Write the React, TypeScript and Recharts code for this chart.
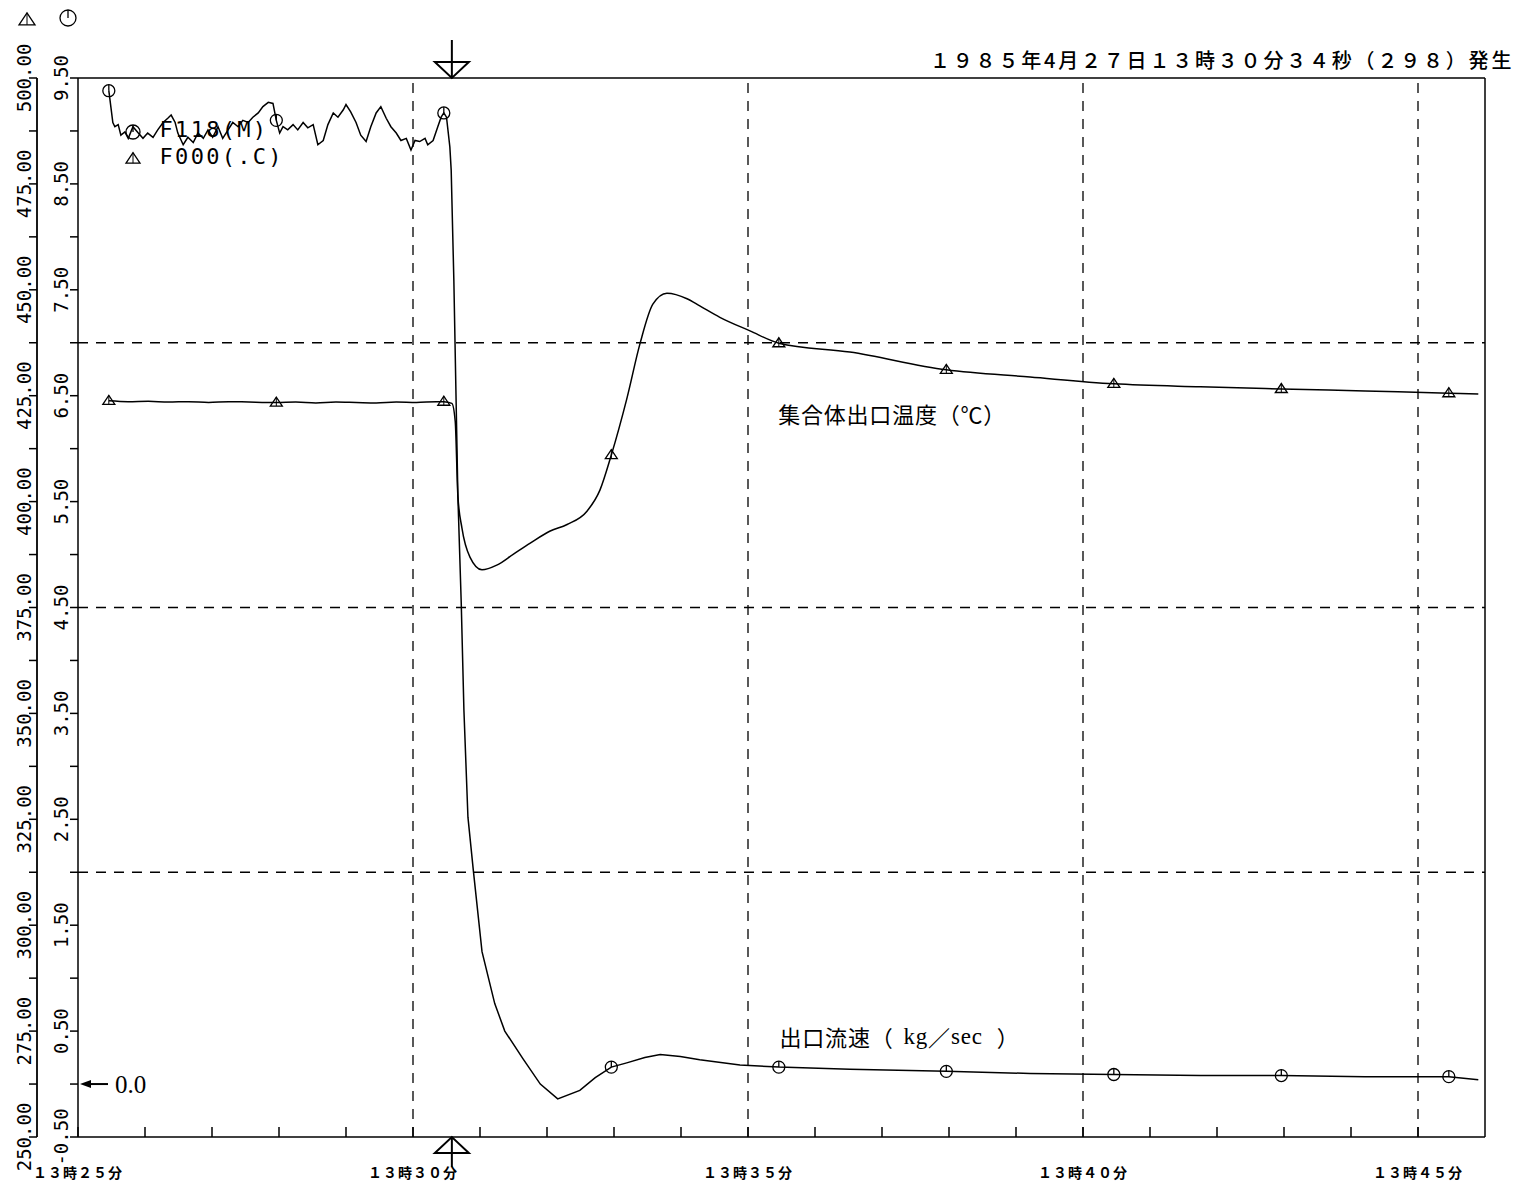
import React from 'react';
import { LineChart, Line, XAxis, YAxis, ReferenceLine, ReferenceDot } from 'recharts';

// minutes after 13:25
const FLOW_TIME = [0.46, 0.52, 0.55, 0.6, 0.64, 0.7, 0.75, 0.82, 0.9, 0.97, 1.04, 1.12, 1.19, 1.27, 1.34, 1.39, 1.45, 1.49, 1.57, 1.64, 1.72, 1.79, 1.87, 1.94, 2.01, 2.09, 2.16, 2.24, 2.31, 2.39, 2.46, 2.54, 2.61, 2.69, 2.76, 2.84, 2.91, 2.96, 3.01, 3.06, 3.13, 3.21, 3.28, 3.36, 3.43, 3.51, 3.58, 3.66, 3.73, 3.81, 3.88, 3.96, 4.0, 4.07, 4.15, 4.22, 4.3, 4.37, 4.45, 4.52, 4.6, 4.67, 4.75, 4.82, 4.9, 4.97, 5.03, 5.1, 5.18, 5.22, 5.3, 5.37, 5.42, 5.46, 5.5, 5.55, 5.57, 5.61, 5.67, 5.72, 5.76, 5.82, 5.9, 6.03, 6.22, 6.37, 6.64, 6.9, 7.16, 7.49, 7.72, 7.96, 8.19, 8.46, 8.69, 8.99, 9.28, 9.88, 10.46, 11.52, 12.96, 14.21, 15.46, 16.75, 17.96, 19.21, 20.46, 20.9];
// 出口流速 kg/sec
const FLOW_VALUE = [9.38, 9.08, 9.04, 9.06, 8.96, 8.99, 8.93, 9.04, 8.98, 8.93, 8.98, 8.94, 9.01, 9.08, 9.12, 9.15, 9.08, 8.98, 8.87, 8.94, 8.89, 8.98, 8.93, 9.01, 8.94, 9.04, 8.93, 9.01, 9.08, 9.04, 9.1, 9.08, 9.13, 9.17, 9.23, 9.27, 9.26, 9.1, 8.98, 9.04, 9.01, 9.06, 9.01, 9.08, 9.03, 9.06, 8.87, 8.91, 9.06, 9.17, 9.13, 9.2, 9.25, 9.18, 9.08, 8.96, 8.9, 9.04, 9.17, 9.23, 9.12, 9.04, 8.98, 8.91, 8.93, 8.82, 8.91, 8.9, 8.93, 8.87, 8.91, 9.04, 9.13, 9.17, 9.13, 8.85, 8.63, 7.58, 5.55, 4.54, 3.53, 2.52, 2.02, 1.25, 0.76, 0.5, 0.24, 0.0, -0.14, -0.06, 0.06, 0.16, 0.2, 0.25, 0.28, 0.26, 0.23, 0.18, 0.16, 0.14, 0.12, 0.1, 0.09, 0.08, 0.08, 0.07, 0.07, 0.04];

const TEMP_TIME = [0.46, 0.75, 1.05, 1.35, 1.65, 1.95, 2.25, 2.55, 2.96, 3.25, 3.55, 3.85, 4.15, 4.45, 4.75, 5.05, 5.35, 5.46, 5.58, 5.63, 5.67, 5.73, 5.85, 6.03, 6.25, 6.5, 6.75, 7.04, 7.3, 7.6, 7.79, 7.96, 8.19, 8.39, 8.58, 8.79, 9.09, 9.28, 9.58, 10.03, 10.46, 11.52, 12.96, 14.21, 15.46, 16.75, 17.96, 19.21, 20.46, 20.9];
// 集合体出口温度 ℃
const TEMP_VALUE = [423.8, 423.6, 423.7, 423.5, 423.6, 423.4, 423.6, 423.5, 423.4, 423.5, 423.3, 423.5, 423.4, 423.3, 423.5, 423.4, 423.6, 423.6, 423.2, 419.0, 401.3, 393.8, 386.9, 383.9, 385.0, 387.6, 390.2, 393.0, 394.6, 397.8, 402.7, 411.0, 424.2, 437.4, 446.6, 449.2, 447.9, 446.2, 443.5, 440.3, 437.4, 435.3, 431.1, 429.4, 427.8, 427.1, 426.6, 426.1, 425.6, 425.4];

const MARKER_TIME = [0.46, 2.96, 5.46, 7.96, 10.46, 12.96, 15.46, 17.96, 20.46];

const TIME_TICKS = [0, 1, 2, 3, 4, 5, 6, 7, 8, 9, 10, 11, 12, 13, 14, 15, 16, 17, 18, 19, 20];
const TIME_LABEL_AT = [0, 5, 10, 15, 20];
const TIME_LABELS = ['１３時２５分', '１３時３０分', '１３時３５分', '１３時４０分', '１３時４５分'];

const FLOW_TICKS = [-0.5, 0, 0.5, 1, 1.5, 2, 2.5, 3, 3.5, 4, 4.5, 5, 5.5, 6, 6.5, 7, 7.5, 8, 8.5, 9, 9.5];
const FLOW_LABELED = [-0.5, 0.5, 1.5, 2.5, 3.5, 4.5, 5.5, 6.5, 7.5, 8.5, 9.5];
const TEMP_TICKS = [250, 262.5, 275, 287.5, 300, 312.5, 325, 337.5, 350, 362.5, 375, 387.5, 400, 412.5, 425, 437.5, 450, 462.5, 475, 487.5, 500];
const TEMP_LABELED = [250, 275, 300, 325, 350, 375, 400, 425, 450, 475, 500];

const GRID_TIME = [5, 10, 15, 20];
const GRID_FLOW = [7, 4.5, 2];
const EVENT_TIME = 5.58;

const flowData = FLOW_TIME.map((t, i) => ({ t, v: FLOW_VALUE[i] }));
const tempData = TEMP_TIME.map((t, i) => ({ t, v: TEMP_VALUE[i] }));

const isMarker = (t: number) => MARKER_TIME.some((m) => Math.abs(m - t) < 0.005);
const INK = '#000';
const MONO = '"DejaVu Sans Mono", monospace';
const CJK = '"Noto Sans CJK JP", sans-serif';
const SERIF = '"Liberation Serif", serif';

function CircleMark({ cx, cy, r = 6 }: any) {
  return (
    <g>
      <circle cx={cx} cy={cy} r={r} fill="none" stroke={INK} strokeWidth={1.3} />
      <line x1={cx} y1={cy - r} x2={cx} y2={cy} stroke={INK} strokeWidth={1.3} />
    </g>
  );
}

function TriMark({ cx, cy, s = 6 }: any) {
  return (
    <g>
      <path d={`M${cx - s},${cy + s * 0.6} L${cx + s},${cy + s * 0.6} L${cx},${cy - s * 0.9} Z`} fill="none" stroke={INK} strokeWidth={1.3} />
      <line x1={cx} y1={cy - s * 0.9} x2={cx} y2={cy + s * 0.6} stroke={INK} strokeWidth={1} />
    </g>
  );
}

const flowDot = (p: any) => (isMarker(p.payload.t) ? <CircleMark key={p.index} cx={p.cx} cy={p.cy} /> : <g key={p.index} />);
const tempDot = (p: any) => (isMarker(p.payload.t) ? <TriMark key={p.index} cx={p.cx} cy={p.cy} /> : <g key={p.index} />);

function TimeTick({ x, y, payload }: any) {
  const k = TIME_LABEL_AT.indexOf(payload.value);
  return (
    <g>
      <line x1={x} y1={y} x2={x} y2={y - 10} stroke={INK} strokeWidth={1.5} />
      {k >= 0 && (
        <text x={x} y={y + 41} textAnchor="middle" fontFamily={CJK} fontWeight={700} fontSize={14} letterSpacing={1}>
          {TIME_LABELS[k]}
        </text>
      )}
    </g>
  );
}

// label centre sits a few px left of the tick end
const makeYTick = (labeled: number[], shift: number) => ({ x, y, payload }: any) => {
  if (!labeled.includes(payload.value)) return <g />;
  const cx = x - shift;
  return (
    <text
      x={cx}
      y={y}
      transform={`rotate(-90 ${cx} ${y})`}
      textAnchor="middle"
      dominantBaseline="central"
      fontFamily={MONO}
      fontSize={19}
    >
      {payload.value.toFixed(2)}
    </text>
  );
};

const FlowTick = makeYTick(FLOW_LABELED, 7);
const TempTick = makeYTick(TEMP_LABELED, 3);

const EventTop = ({ cx, cy }: any) => (
  <g stroke={INK} strokeWidth={2} fill="none">
    <line x1={cx} y1={cy - 38} x2={cx} y2={cy} />
    <path d={`M${cx - 17},${cy - 16} L${cx + 17},${cy - 16} L${cx},${cy} Z`} />
  </g>
);
const EventBottom = ({ cx, cy }: any) => (
  <g stroke={INK} strokeWidth={2} fill="none">
    <line x1={cx} y1={cy} x2={cx} y2={cy + 30} />
    <path d={`M${cx - 17},${cy + 16} L${cx + 17},${cy + 16} L${cx},${cy} Z`} />
  </g>
);
const ZeroArrow = ({ cx, cy }: any) => (
  <g>
    <line x1={cx + 8} y1={cy} x2={cx + 30} y2={cy} stroke={INK} strokeWidth={2} />
    <path d={`M${cx + 2},${cy} L${cx + 13},${cy - 4} L${cx + 13},${cy + 4} Z`} fill={INK} />
    <text x={cx + 37} y={cy + 9} fontFamily={SERIF} fontSize={25}>0.0</text>
  </g>
);
const TempCaption = ({ cx, cy }: any) => (
  <text x={cx} y={cy} dominantBaseline="central" fontFamily={CJK} fontSize={22} letterSpacing={0.8}>
    集合体出口温度（℃）
  </text>
);
const FlowCaption = ({ cx, cy }: any) => (
  <text x={cx} y={cy} dominantBaseline="central" fontFamily={CJK} fontSize={22} letterSpacing={0.8}>
    出口流速（
    <tspan fontFamily={SERIF} fontSize={23} dx={10}>kg</tspan>
    ／
    <tspan fontFamily={SERIF} fontSize={23}>sec</tspan>
    <tspan dx={14}>）</tspan>
  </text>
);

export default function App() {
  return (
    <div style={{ position: 'absolute', left: 0, top: 0, width: 1517, height: 1187, background: '#fff' }}>
      <LineChart width={1517} height={1187} data={flowData} margin={{ top: 78, right: 32, left: 0, bottom: 0 }}>
        <XAxis
          dataKey="t"
          type="number"
          domain={[0, 21]}
          ticks={TIME_TICKS}
          interval={0}
          tickLine={false}
          tickSize={0}
          tickMargin={0}
          height={50}
          axisLine={{ stroke: INK, strokeWidth: 1.5 }}
          tick={<TimeTick />}
          allowDataOverflow
        />
        <YAxis
          yAxisId="flow"
          type="number"
          domain={[-0.5, 9.5]}
          ticks={FLOW_TICKS}
          interval={0}
          width={41}
          tickSize={8}
          tickMargin={2}
          axisLine={{ stroke: INK, strokeWidth: 1.5 }}
          tickLine={{ stroke: INK, strokeWidth: 1.5 }}
          tick={<FlowTick />}
          allowDataOverflow
        />
        <YAxis
          yAxisId="temp"
          type="number"
          domain={[250, 500]}
          ticks={TEMP_TICKS}
          interval={0}
          width={37}
          tickSize={8}
          tickMargin={2}
          axisLine={{ stroke: INK, strokeWidth: 1.8 }}
          tickLine={{ stroke: INK, strokeWidth: 1.5 }}
          tick={<TempTick />}
          allowDataOverflow
        />
        {GRID_TIME.map((t) => (
          <ReferenceLine key={'gx' + t} x={t} yAxisId="flow" stroke={INK} strokeWidth={1.3} strokeDasharray="10 8" />
        ))}
        {GRID_FLOW.map((v) => (
          <ReferenceLine key={'gy' + v} y={v} yAxisId="flow" stroke={INK} strokeWidth={1.3} strokeDasharray="10 8" />
        ))}
        <ReferenceLine y={9.5} yAxisId="flow" stroke={INK} strokeWidth={1.5} />
        <ReferenceLine x={21} yAxisId="flow" stroke={INK} strokeWidth={1.5} />
        <Line
          yAxisId="temp"
          data={tempData}
          dataKey="v"
          type="monotone"
          stroke={INK}
          strokeWidth={1.5}
          dot={tempDot}
          activeDot={false}
          isAnimationActive={false}
        />
        <Line
          yAxisId="flow"
          data={flowData}
          dataKey="v"
          type="linear"
          stroke={INK}
          strokeWidth={1.5}
          dot={flowDot}
          activeDot={false}
          isAnimationActive={false}
        />
        <ReferenceDot x={EVENT_TIME} y={9.5} yAxisId="flow" r={0} shape={EventTop} ifOverflow="visible" />
        <ReferenceDot x={EVENT_TIME} y={-0.5} yAxisId="flow" r={0} shape={EventBottom} ifOverflow="visible" />
        <ReferenceDot x={0} y={0} yAxisId="flow" r={0} shape={ZeroArrow} ifOverflow="visible" />
        <ReferenceDot x={10.45} y={421} yAxisId="temp" r={0} shape={TempCaption} ifOverflow="visible" />
        <ReferenceDot x={10.47} y={0.45} yAxisId="flow" r={0} shape={FlowCaption} ifOverflow="visible" />
      </LineChart>

      <svg style={{ position: 'absolute', left: 0, top: 0 }} width={100} height={40}>
        <TriMark cx={27} cy={20} s={8} />
        <CircleMark cx={68} cy={18} r={8} />
      </svg>

      <div style={{ position: 'absolute', left: 122, top: 116, fontFamily: MONO, fontSize: 22, letterSpacing: 2.3, lineHeight: '27px', whiteSpace: 'pre' }}>
        <div>
          <svg width={22} height={20} style={{ verticalAlign: 'middle' }}><CircleMark cx={11} cy={11} r={7} /></svg>
          {' F118(M)'}
        </div>
        <div>
          <svg width={22} height={20} style={{ verticalAlign: 'middle' }}><TriMark cx={11} cy={11} s={7} /></svg>
          {' F000(.C)'}
        </div>
      </div>

      <div style={{ position: 'absolute', left: 930, top: 46, fontFamily: CJK, fontSize: 20, fontWeight: 500, letterSpacing: 2.8, whiteSpace: 'pre', lineHeight: '28px' }}>
        １９８５年4月２７日１３時３０分３４秒（２９８）発生
      </div>
    </div>
  );
}
